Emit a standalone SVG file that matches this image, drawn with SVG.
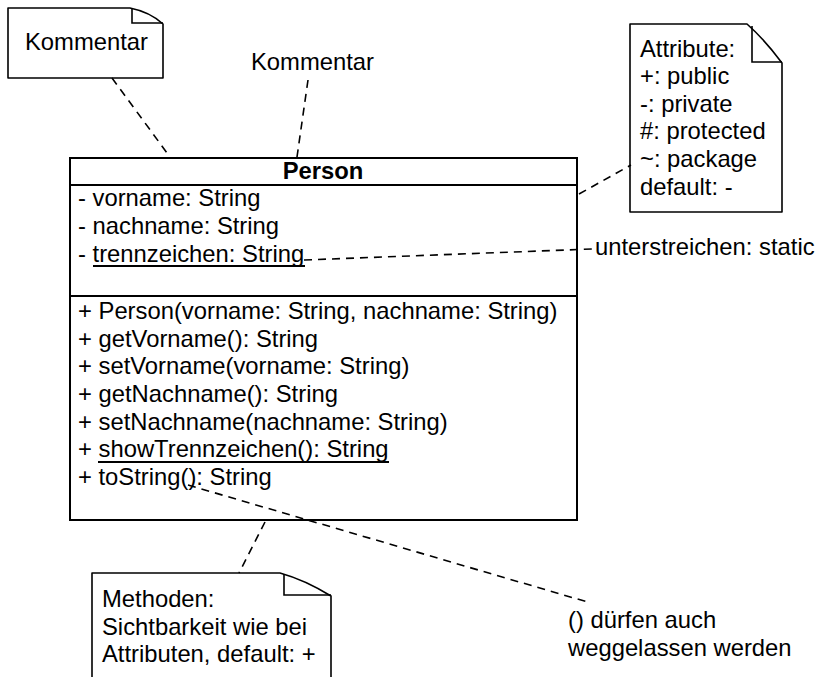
<svg xmlns="http://www.w3.org/2000/svg" width="817" height="677" viewBox="0 0 817 677">
  <style>
    text { font-family: "Liberation Sans", Arial, sans-serif; font-size: 23.8px; fill: #000; }
    .bold { font-weight: bold; }
    .box { fill: #fff; stroke: #000; stroke-width: 2; }
    .note { fill: #fff; stroke: #000; stroke-width: 1.6; stroke-linejoin: round; }
    .fold { fill: none; stroke: #000; stroke-width: 1.6; }
    .sep { stroke: #000; stroke-width: 2; }
    .ul { stroke: #000; stroke-width: 1.8; }
    .dash { fill: none; stroke: #000; stroke-width: 1.6; stroke-dasharray: 8 6; }
  </style>
  <rect width="817" height="677" fill="#fff"/>

  <g id="note-kommentar">
    <path class="note" d="M8,8 H130 Q150,12 163,24 V78 H8 Z"/>
    <path class="fold" d="M132,9 V23 H163"/>
    <text x="25" y="50">Kommentar</text>
  </g>

  <g id="label-kommentar">
    <text x="251" y="70">Kommentar</text>
  </g>

  <g id="note-attribute">
    <path class="note" d="M630,24 H747 Q765,40 782,63 V212 H630 Z"/>
    <path class="fold" d="M752,26 V62 H782"/>
    <text x="640" y="57">Attribute:</text>
    <text x="640" y="84">+: public</text>
    <text x="640" y="112">-: private</text>
    <text x="640" y="139">#: protected</text>
    <text x="640" y="167">~: package</text>
    <text x="640" y="195">default: -</text>
  </g>

  <g id="class-person">
    <rect class="box" x="70" y="158" width="507" height="362"/>
    <line class="sep" x1="70" y1="185" x2="577" y2="185"/>
    <line class="sep" x1="70" y1="296" x2="577" y2="296"/>
    <text class="bold" x="323" y="179" text-anchor="middle">Person</text>
    <text x="78" y="206">- vorname: String</text>
    <text x="78" y="234">- nachname: String</text>
    <text x="78" y="262">- trennzeichen: String</text>
    <line class="ul" x1="93" y1="266" x2="305" y2="266"/>
    <text x="78" y="319">+ Person(vorname: String, nachname: String)</text>
    <text x="78" y="347">+ getVorname(): String</text>
    <text x="78" y="374">+ setVorname(vorname: String)</text>
    <text x="78" y="402">+ getNachname(): String</text>
    <text x="78" y="430">+ setNachname(nachname: String)</text>
    <text x="78" y="457">+ showTrennzeichen(): String</text>
    <line class="ul" x1="98" y1="462" x2="389" y2="462"/>
    <text x="78" y="485">+ toString(): String</text>
  </g>

  <g id="label-static">
    <text x="595" y="255">unterstreichen: static</text>
  </g>

  <g id="label-klammern">
    <text x="568" y="628">() dürfen auch</text>
    <text x="568" y="656">weggelassen werden</text>
  </g>

  <g id="note-methoden">
    <path class="note" d="M92,573 H280 Q305,580 331,596 V700 H92 Z"/>
    <path class="fold" d="M284,574 V595 H331"/>
    <text x="102" y="607">Methoden:</text>
    <text x="102" y="635">Sichtbarkeit wie bei</text>
    <text x="102" y="662">Attributen, default: +</text>
  </g>

  <!-- dashed anchors between notes/labels and the class, drawn on top -->
  <g id="connectors">
    <line class="dash" x1="112" y1="78" x2="170" y2="157"/>
    <line class="dash" x1="308" y1="80" x2="297" y2="157"/>
    <line class="dash" x1="579" y1="194" x2="631" y2="165"/>
    <line class="dash" x1="304" y1="260" x2="592" y2="249"/>
    <line class="dash" x1="188" y1="485" x2="591" y2="603"/>
    <line class="dash" x1="265" y1="522" x2="239" y2="573"/>
  </g>
</svg>
